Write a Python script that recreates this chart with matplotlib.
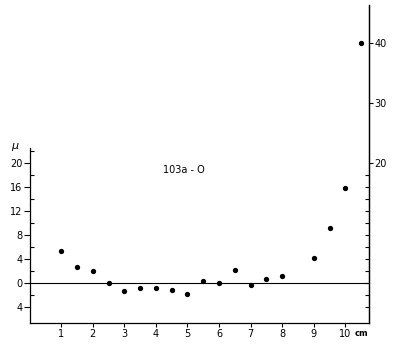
import matplotlib.pyplot as plt
from matplotlib.ticker import FixedLocator, FuncFormatter

# distance along plate (cm) and measured deviation (micron)
x_cm = [1, 1.5, 2, 2.5, 3, 3.5, 4, 4.5, 5, 5.5, 6, 6.5, 7, 7.5, 8, 9, 9.5, 10, 10.5]
mu = [5.3, 2.7, 2.0, 0.0, -1.3, -0.8, -0.9, -1.2, -1.9, 0.3, 0.0, 2.1, -0.3, 0.7, 1.1, 4.1, 9.1, 15.9, 40.0]

left_ticks = [-4, 0, 4, 8, 12, 16, 20]
right_ticks = [20, 30, 40]
x_ticks = [1, 2, 3, 4, 5, 6, 7, 8, 9, 10]
plate_label = "103a - O"

plt.rcParams['font.family'] = 'DejaVu Sans'

fig = plt.figure(figsize=(4, 3.44), dpi=100)
ax = fig.add_axes([0.074, 0.061, 0.8485, 0.9245])
ax.set_xlim(0, 10.75)
ax.set_ylim(-6.67, 46.3)

ax.plot(x_cm, mu, 'o', color='black', markersize=2.8)
ax.axhline(0, color='black', linewidth=0.8)

# spines
ax.spines['top'].set_visible(False)
ax.spines['left'].set_bounds(-6.67, 22.5)
for s in ['left', 'bottom', 'right']:
    ax.spines[s].set_linewidth(0.9)

# left axis
ax.yaxis.set_major_locator(FixedLocator(left_ticks))
ax.yaxis.set_minor_locator(FixedLocator([t + 2 for t in left_ticks]))
ax.yaxis.set_major_formatter(FuncFormatter(lambda v, p: f"{abs(int(v))}"))
ax.tick_params(axis='y', which='major', direction='out', length=4, width=0.8,
               labelsize=7, pad=1)
ax.tick_params(axis='y', which='minor', direction='in', length=3, width=0.8)

# bottom axis
ax.xaxis.set_major_locator(FixedLocator(x_ticks))
ax.tick_params(axis='x', which='major', direction='out', length=3, width=0.8,
               labelsize=7, pad=1)

# right axis, same scale
ax2 = ax.twinx()
ax2.set_ylim(ax.get_ylim())
for s in ['top', 'left', 'bottom']:
    ax2.spines[s].set_visible(False)
ax2.spines['right'].set_linewidth(0.9)
ax2.yaxis.set_major_locator(FixedLocator(right_ticks))
ax2.yaxis.set_minor_locator(FixedLocator(list(range(-4, 20, 2))))
ax2.tick_params(axis='y', which='major', direction='out', length=3, width=0.8,
                labelsize=7, pad=1)
ax2.tick_params(axis='y', which='minor', direction='in', length=3, width=0.8)

ax.text(4.9, 18.8, plate_label, fontsize=7, ha='center', va='center')
ax.text(-0.45, 22.7, r'$\mu$', fontsize=8, ha='center', va='center')
ax.text(10.5, -8.4, 'cm', fontsize=6, ha='center', va='center', fontweight='bold')

fig.savefig('out.png', dpi=100, facecolor='white')
